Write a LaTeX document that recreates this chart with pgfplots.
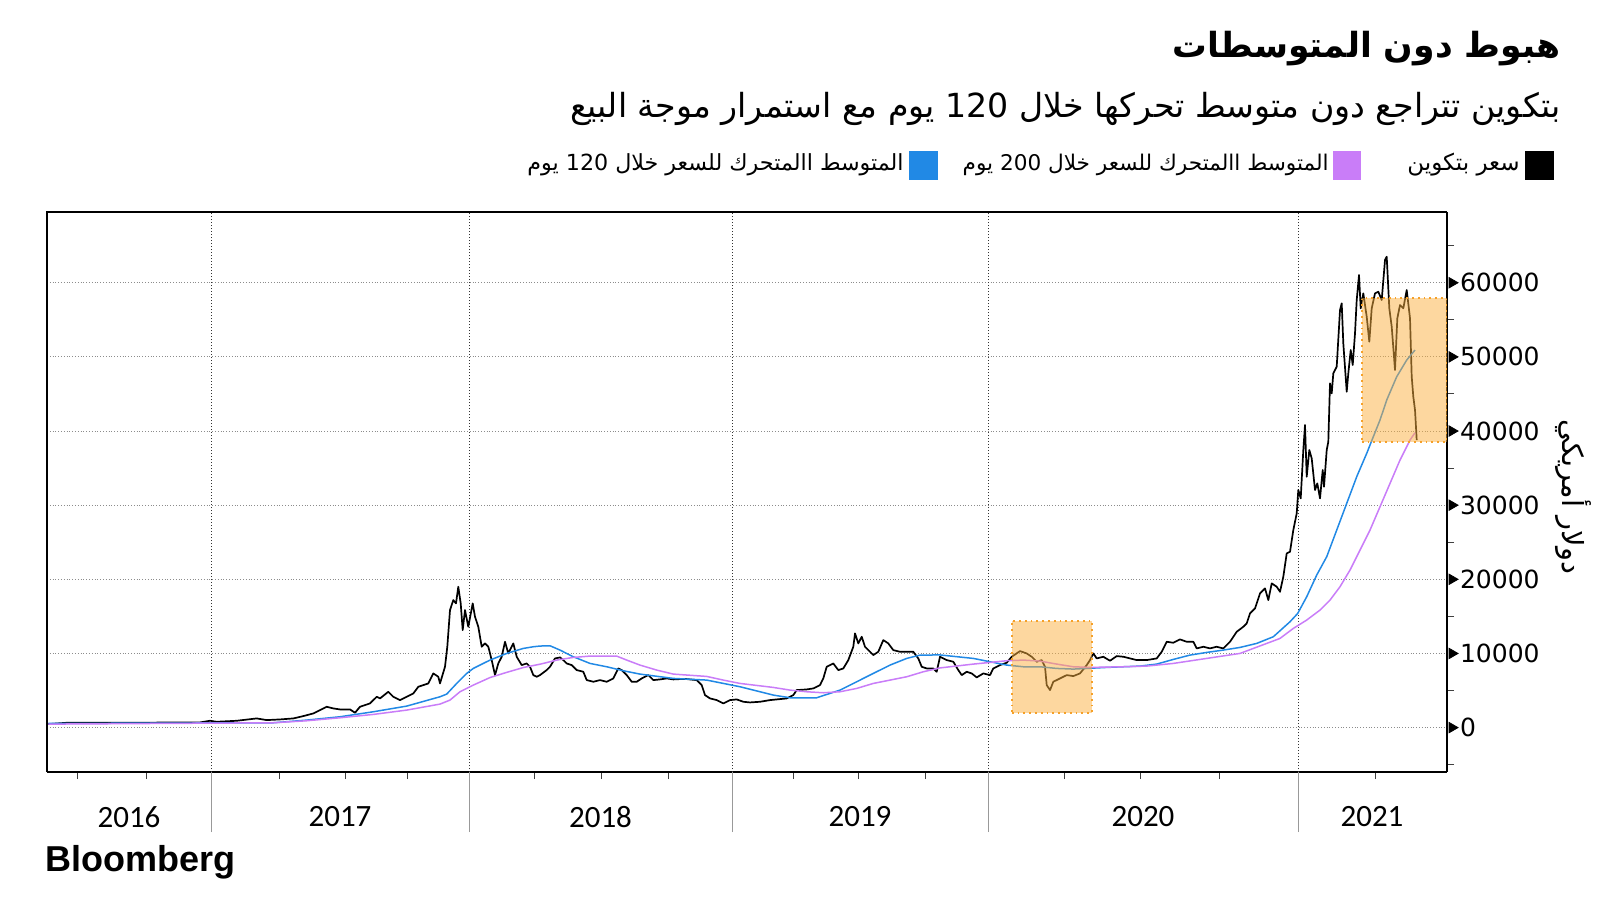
\documentclass[border=0pt]{standalone}
\usepackage{pgfplots}
\pgfplotsset{compat=1.18}
\usepackage{fontspec}
\setmainfont{DejaVu Sans}
\newfontfamily\arabicfont[Script=Arabic]{DejaVu Sans}
\newfontfamily\carlito{Carlito}
\newfontfamily\bbg{Liberation Sans}
\TeXXeTstate=1

\definecolor{btcblue}{RGB}{33,137,229}
\definecolor{btcpurple}{RGB}{201,125,248}
\definecolor{boxfill}{RGB}{251,176,64}
\definecolor{boxline}{RGB}{245,160,40}

% full-size pixel x, price in USD
\pgfplotstableread{
x y
48.3 472
66.7 652
98.3 652
150 652
163.3 697
200 697
210 922
216.7 787
236.7 922
256.7 1237
266.7 1012
280 1102
293.3 1237
303.3 1551
313.3 1911
320 2361
326.7 2810
333.3 2586
340 2451
350 2451
355 2001
360 2810
370 3261
376.7 4160
380 3935
388.3 4834
393.3 4160
400 3710
406.7 4160
413.3 4609
418.3 5508
423.3 5733
428.3 5958
433.3 7307
438.3 6857
440 5958
445 8206
447.3 10904
450 15851
453.3 17199
456 16750
458.3 18998
460.7 16750
462.7 13152
465 15851
468.3 13602
472.7 16750
475 14951
478.3 13602
481.7 10904
485 11354
488.3 10904
491.7 9106
495 7082
498.3 8656
501.7 9555
505 11579
508.3 10005
513.3 11354
516.7 9555
521.7 8431
526.7 8656
530 8206
533.3 7082
536.7 6857
540 7082
546.7 7757
550 8206
555 9331
560 9466
563.3 9106
566.7 8656
571.7 8431
576.7 7757
583.3 7532
586.7 6408
593.3 6183
600 6408
606.7 6183
613.3 6632
618.3 7981
621.7 7757
626.7 7082
631.7 6183
636.7 6183
641.7 6632
648.3 7082
653.3 6408
660 6498
666.7 6632
673.3 6498
680 6543
686.7 6543
696.7 6408
701.7 5733
705 4384
710 3935
716.7 3710
723.3 3260
730 3710
736.7 3800
743.3 3485
750 3395
760 3485
770 3710
776.7 3800
786.7 3935
793.3 4384
796.7 5059
806.7 5149
813.3 5284
820 5733
823.3 6632
826.7 8206
833.3 8656
838.3 7757
843.3 7981
848.3 9106
853.3 10904
855 12703
858.3 11354
861.7 12253
865 10904
868.3 10455
873.3 9780
878.3 10230
883.3 11804
888.3 11354
893.3 10455
900 10230
906.7 10230
913.3 10230
918.3 9331
921.7 8206
926.7 7981
933.3 7981
936.7 7532
940 9555
946.7 9106
953.3 8881
958.3 7757
961.7 7082
966.7 7532
971.7 7307
976.7 6768
983.3 7307
990 7082
993.3 7981
1000 8431
1006.7 8746
1011.7 9555
1020 10320
1026.7 10005
1031.7 9555
1036.7 8881
1041.7 9106
1045 8206
1046.7 5733
1050 5059
1053.3 6183
1060 6632
1066.7 7082
1073.3 6947
1080 7307
1086.7 8431
1090 9106
1093.3 10005
1096.7 9331
1103.3 9555
1110 9016
1116.7 9645
1123.3 9555
1130 9331
1136.7 9106
1146.7 9106
1156.7 9331
1161.7 10230
1166.7 11579
1173.3 11444
1180 11894
1186.7 11579
1193.3 11579
1196.7 10680
1203.3 10904
1210 10680
1216.7 10904
1223.3 10680
1230 11579
1236.7 12928
1243.3 13602
1246.7 14052
1250 15401
1255 16076
1260 18099
1265 18774
1268.3 17200
1271.7 19448
1276.7 18998
1280 18324
1283.3 20347
1286.7 23495
1290 23720
1293.3 26643
1296.7 28891
1298.3 32039
1300.7 30915
1303.3 37435
1305 40807
1306.7 33837
1309.3 37435
1311.7 36311
1315 32039
1317.3 32938
1320 30915
1322.7 34737
1324 32488
1326.7 37435
1328.3 38558
1330 46428
1331.7 45079
1333.3 47777
1336.7 48676
1340 56321
1341.7 57220
1343.3 51824
1346.7 45304
1348.3 47777
1350.7 50925
1352.7 48901
1355 53173
1356.7 57670
1359 61043
1360.7 56546
1363.3 58569
1366.7 55422
1369.3 52049
1371.7 56546
1375 58569
1378.3 58794
1381.7 57670
1385 63066
1386.7 63515
1389.3 56546
1391.7 54073
1395 48227
1397.3 55197
1400 56996
1403.3 56546
1406.7 59019
1410 55197
1411.7 47327
1413.3 44629
1415 42830
1416.7 38784
}\price

\pgfplotstableread{
x y
48.3 562
273.3 652
306.7 1012
340 1461
373.3 2136
406.7 2900
440 4160
446.7 4519
456.7 5958
466.7 7307
473.3 7982
490 9106
506.7 10005
523.3 10680
533.3 10904
540 11000
550 11039
560 10455
573.3 9555
590 8656
606.7 8206
623.3 7667
640 7217
673.3 6633
706.7 6408
740 5508
773.3 4384
790 4024
816.7 4024
840 5059
873.3 7307
890 8431
906.7 9331
920 9780
940 9800
973.3 9331
990 8881
1006.7 8431
1023.3 8206
1040 8206
1056.7 7981
1073.3 7892
1086.7 7981
1106.7 8116
1140 8296
1156.7 8566
1173.3 9196
1190 9780
1206.7 10140
1223.3 10455
1240 10814
1256.7 11354
1273.3 12253
1290 14277
1297.7 15401
1306.7 17649
1316.7 20572
1326.7 23045
1336.7 26643
1346.7 30241
1356.7 33837
1366.7 36985
1373.3 39233
1380 41482
1386.7 44180
1396.7 47327
1406.7 49576
1415 50925
}\maonetwenty

\pgfplotstableread{
x y
48.3 472
273.3 652
306.7 922
340 1326
373.3 1776
406.7 2361
440 3170
450 3710
460 4834
473.3 5733
490 6750
506.7 7450
523.3 8100
540 8550
556.7 9106
573.3 9466
590 9645
616.7 9645
626.7 9106
640 8431
656.7 7757
673.3 7217
706.7 6902
723.3 6408
740 5958
773.3 5418
790 5059
806.7 4834
823.3 4699
840 4834
856.7 5284
873.3 5958
890 6408
906.7 6857
923.3 7532
940 8050
973.3 8566
1006.7 9016
1023.3 9106
1040 8971
1056.7 8566
1073.3 8206
1090 8116
1123.3 8206
1146.7 8296
1173.3 8656
1206.7 9331
1240 10005
1266.7 11354
1280 12029
1293.3 13378
1306.7 14502
1320 15851
1330 17200
1340 18998
1350 21247
1360 23945
1370 26643
1380 29790
1390 32938
1400 36086
1410 38784
1415 39773
}\matwohundred

\begin{document}
\begin{tikzpicture}
\path[use as bounding box] (0,0) rectangle (800pt,-450pt);

\begin{scope}[x=0.5pt,y=-0.5pt]
\node[anchor=east, inner sep=0pt, font=\arabicfont\bfseries\fontsize{17.3}{20}\selectfont] at (1561,49) {\beginR هبوط دون المتوسطات\endR};
\node[anchor=east, inner sep=0pt, font=\arabicfont\fontsize{16.6}{19}\selectfont] at (1561,109) {\beginR بتكوين تتراجع دون متوسط تحركها خلال \beginL120\endL{} يوم مع استمرار موجة البيع\endR};
% legend
\fill[black] (1525,151) rectangle (1554,180);
\node[anchor=east, inner sep=0pt, font=\arabicfont\fontsize{11.5}{13}\selectfont] at (1520,165) {\beginR سعر بتكوين\endR};
\fill[btcpurple] (1333,151) rectangle (1361,180);
\node[anchor=east, inner sep=0pt, font=\arabicfont\fontsize{10.8}{13}\selectfont] at (1329,165) {\beginR المتوسط االمتحرك للسعر خلال \beginL200\endL{} يوم\endR};
\fill[btcblue] (909,151) rectangle (938,180);
\node[anchor=east, inner sep=0pt, font=\arabicfont\fontsize{11.1}{13}\selectfont] at (904,165) {\beginR المتوسط االمتحرك للسعر خلال \beginL120\endL{} يوم\endR};
% y label
\node[rotate=-90, inner sep=0pt, font=\arabicfont\fontsize{14.5}{16}\selectfont] at (1573,497) {\beginR دولار أمريكي\endR};
% logo
\node[anchor=base west, inner sep=0pt, font=\bbg\bfseries\fontsize{18}{20}\selectfont] at (45,871) {Bloomberg};
\end{scope}

\begin{axis}[
    at={(23.5pt,-386pt)}, anchor=south west,
    scale only axis, width=700pt, height=280pt,
    xmin=47, xmax=1447, ymin=-5990, ymax=69540,
    clip=false,
    axis x line*=bottom, axis y line*=right,
    axis line style={line width=1pt, black},
    tick align=outside,
    major tick length=0pt, minor tick length=3.5pt,
    minor tick style={black!75, line width=0.5pt},
    xtick={129,340,600.5,860,1143,1372},
    xticklabels={2016,2017,2018,2019,2020,2021},
    minor xtick={77,146,279,345,407,534,601,668,793,858,925,1064,1140,1219,1375},
    xticklabel style={font=\carlito\fontsize{15.5}{17}\selectfont},
    xticklabel shift=13.5pt,
    extra x ticks={211,469,732,988,1298},
    extra x tick labels={},
    extra x tick style={grid=major, major grid style={densely dotted, black!80, line width=0.5pt},
        major tick length=30pt, tick style={black!40, line width=0.5pt}},
    ytick={0,10000,...,60000},
    minor ytick={-5000,5000,15000,25000,35000,45000,55000,65000},
    scaled y ticks=false,
    yticklabel style={font=\fontsize{12.5}{14}\selectfont, xshift=3pt},
    /pgf/number format/assume math mode=true,
    /pgf/number format/set thousands separator={},
    ymajorgrids=true,
    major grid style={densely dotted, black!45, line width=0.5pt},
]
\draw[black, line width=0.6pt] (rel axis cs:0,0) -- (rel axis cs:0,1) -- (rel axis cs:1,1);
\addplot[black, line width=0.85pt, line join=round] table[x=x, y=y] {\price};
\addplot[btcblue, line width=0.75pt] table[x=x, y=y] {\maonetwenty};
\addplot[btcpurple, line width=0.75pt] table[x=x, y=y] {\matwohundred};
% highlight boxes
\addplot[draw=boxline, line width=0.9pt, dotted, fill=boxfill, fill opacity=0.5, draw opacity=1]
    coordinates {(1011.7,1916) (1091.7,1916) (1091.7,14407) (1011.7,14407)} -- cycle;
\addplot[draw=boxline, line width=0.9pt, dotted, fill=boxfill, fill opacity=0.5, draw opacity=1]
    coordinates {(1361.7,38554) (1446.5,38554) (1446.5,57898) (1361.7,57898)} -- cycle;
% major tick triangles on the right axis
\addplot[only marks, mark=triangle*, mark size=3pt, mark options={rotate=-90, black}]
    coordinates {(1452,0) (1452,10000) (1452,20000) (1452,30000) (1452,40000) (1452,50000) (1452,60000)};
\end{axis}
\end{tikzpicture}
\end{document}
